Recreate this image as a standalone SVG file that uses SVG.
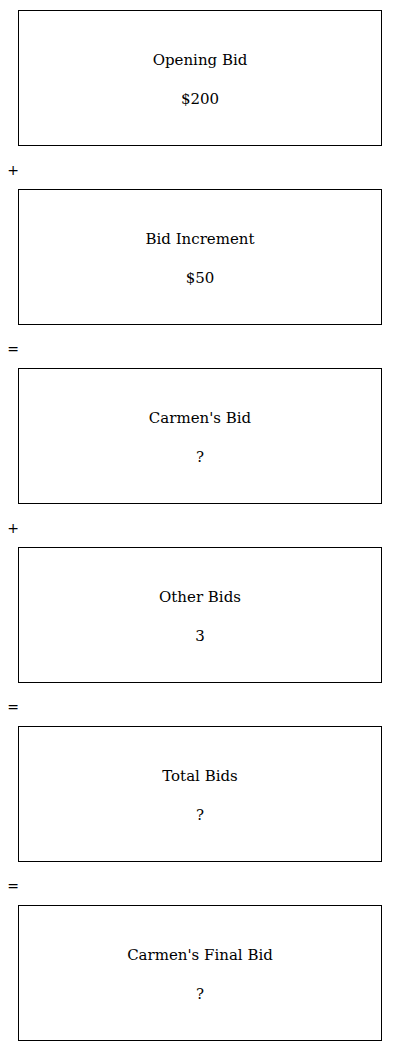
<svg xmlns="http://www.w3.org/2000/svg" width="400" height="1051" viewBox="0 0 400 1051">
<style>
.box{fill:#fff;stroke:#000;stroke-width:1}
.t{font-family:"DejaVu Serif","Liberation Serif",serif;font-size:15px;fill:#000;text-anchor:middle}
.op{font-family:"DejaVu Sans","Liberation Sans",sans-serif;font-size:14px;fill:#000;text-anchor:middle}
</style>
<rect width="400" height="1051" fill="#fff"/>
<g id="n1"><rect class="box" x="18.5" y="10.5" width="363" height="135"/><text class="t" x="200" y="65">Opening Bid</text><text class="t" x="200" y="104">$200</text></g>
<g id="n2"><rect class="box" x="18.5" y="189.5" width="363" height="135"/><text class="t" x="200" y="244">Bid Increment</text><text class="t" x="200" y="283">$50</text></g>
<g id="n3"><rect class="box" x="18.5" y="368.5" width="363" height="135"/><text class="t" x="200" y="423">Carmen's Bid</text><text class="t" x="200" y="462">?</text></g>
<g id="n4"><rect class="box" x="18.5" y="547.5" width="363" height="135"/><text class="t" x="200" y="602">Other Bids</text><text class="t" x="200" y="641">3</text></g>
<g id="n5"><rect class="box" x="18.5" y="726.5" width="363" height="135"/><text class="t" x="200" y="781">Total Bids</text><text class="t" x="200" y="820">?</text></g>
<g id="n6"><rect class="box" x="18.5" y="905.5" width="363" height="135"/><text class="t" x="200" y="960">Carmen's Final Bid</text><text class="t" x="200" y="999">?</text></g>
<g id="connectors">
<text class="op" x="13" y="175">+</text>
<text class="op" x="13" y="354">=</text>
<text class="op" x="13" y="533">+</text>
<text class="op" x="13" y="712">=</text>
<text class="op" x="13" y="891">=</text>
</g>
</svg>
